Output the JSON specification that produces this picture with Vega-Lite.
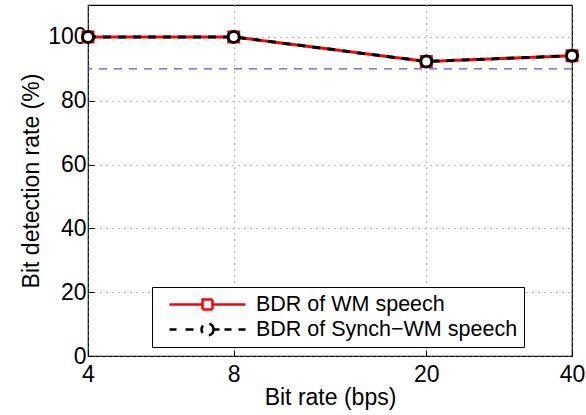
{
  "$schema": "https://vega.github.io/schema/vega-lite/v6.json",
  "width": 484,
  "height": 351,
  "autosize": {"type": "none"},
  "padding": {"left": 88, "top": 5, "right": 14, "bottom": 59},
  "background": "white",
  "config": {
    "font": "Liberation Sans",
    "view": {"stroke": "black", "strokeWidth": 1.2},
    "axis": {
      "domain": false,
      "labelFont": "Liberation Sans",
      "labelFontSize": 23,
      "labelColor": "black",
      "titleFont": "Liberation Sans",
      "titleFontSize": 23,
      "titleFontWeight": "normal",
      "titleColor": "black",
      "tickColor": "black",
      "tickSize": -6,
      "grid": true,
      "gridColor": "#7a7a7a",
      "gridDash": [1, 5],
      "gridWidth": 1
    },
    "legend": {
      "labelFont": "Liberation Sans",
      "labelFontSize": 21.5,
      "labelColor": "black",
      "labelLimit": 400
    }
  },
  "datasets": {
    "rates": [
      {"rate": 4, "bdr": 100, "series": "BDR of WM speech"},
      {"rate": 8, "bdr": 100, "series": "BDR of WM speech"},
      {"rate": 20, "bdr": 92.3, "series": "BDR of WM speech"},
      {"rate": 40, "bdr": 94.1, "series": "BDR of WM speech"},
      {"rate": 4, "bdr": 100, "series": "BDR of Synch−WM speech"},
      {"rate": 8, "bdr": 100, "series": "BDR of Synch−WM speech"},
      {"rate": 20, "bdr": 92.3, "series": "BDR of Synch−WM speech"},
      {"rate": 40, "bdr": 94.1, "series": "BDR of Synch−WM speech"}
    ],
    "threshold": [{"level": 90}]
  },
  "layer": [
    {
      "data": {"name": "threshold"},
      "mark": {"type": "rule", "color": "#5656f0", "strokeWidth": 1.2, "strokeDash": [8, 7]},
      "encoding": {
        "y": {"field": "level", "type": "quantitative", "scale": {"domain": [0, 110]}}
      }
    },
    {
      "data": {"name": "rates"},
      "mark": {"type": "line", "strokeWidth": 3},
      "encoding": {
        "x": {
          "field": "rate",
          "type": "quantitative",
          "title": "Bit rate (bps)",
          "scale": {"type": "log", "domain": [4, 40], "nice": false},
          "axis": {"values": [4, 8, 20, 40], "labelPadding": 13, "titlePadding": 0, "labelFlush": false}
        },
        "y": {
          "field": "bdr",
          "type": "quantitative",
          "title": "Bit detection rate (%)",
          "scale": {"domain": [0, 110], "nice": false},
          "axis": {"values": [0, 20, 40, 60, 80, 100], "labelPadding": 8, "titlePadding": 4}
        },
        "stroke": {
          "field": "series",
          "type": "nominal",
          "sort": ["BDR of WM speech", "BDR of Synch−WM speech"],
          "scale": {"domain": ["BDR of WM speech", "BDR of Synch−WM speech"], "range": ["#ff0000", "#000000"]},
          "legend": {
            "title": null,
            "orient": "none",
            "legendX": 64,
            "legendY": 282,
            "direction": "vertical",
            "strokeColor": "black",
            "fillColor": "white",
            "padding": 6,
            "symbolOffset": 38,
            "symbolSize": 400,
            "labelOffset": 37,
            "rowPadding": 3,
            "encode": {
              "symbols": {
                "update": {
                  "shape": [
                    {"test": "datum.value === 'BDR of WM speech'", "value": "M-3.8,0H-0.5M0.5,0H3.8M-0.5,-0.5H0.5V0.5H-0.5Z"},
                    {"value": "M-3.8,0H-3.1M-2.2,0H-1.4M0.6,0H1.2M1.7,0H2.4M3.1,0H3.8M0.6,0A0.6,0.6 0 1 1 -0.6,0A0.6,0.6 0 1 1 0.6,0Z"}
                  ],
                  "size": {"value": 400},
                  "fill": {"value": "white"},
                  "fillOpacity": {"value": 1},
                  "strokeWidth": {"value": 2.5},
                  "strokeDash": {"value": [1, 0]}
                }
              }
            }
          }
        },
        "strokeDash": {
          "field": "series",
          "type": "nominal",
          "scale": {"domain": ["BDR of WM speech", "BDR of Synch−WM speech"], "range": [[1, 0], [8, 7]]},
          "legend": null
        }
      }
    },
    {
      "data": {"name": "rates"},
      "mark": {"type": "point", "filled": false, "fill": "white", "fillOpacity": 1, "strokeWidth": 3, "opacity": 1},
      "encoding": {
        "x": {"field": "rate", "type": "quantitative"},
        "y": {"field": "bdr", "type": "quantitative"},
        "stroke": {
          "condition": {"test": "datum.series === 'BDR of WM speech'", "value": "#ff0000"},
          "value": "#000000"
        },
        "shape": {
          "condition": {"test": "datum.series === 'BDR of WM speech'", "value": "square"},
          "value": "circle"
        },
        "size": {
          "condition": {"test": "datum.series === 'BDR of WM speech'", "value": 100},
          "value": 121
        }
      }
    }
  ]
}
